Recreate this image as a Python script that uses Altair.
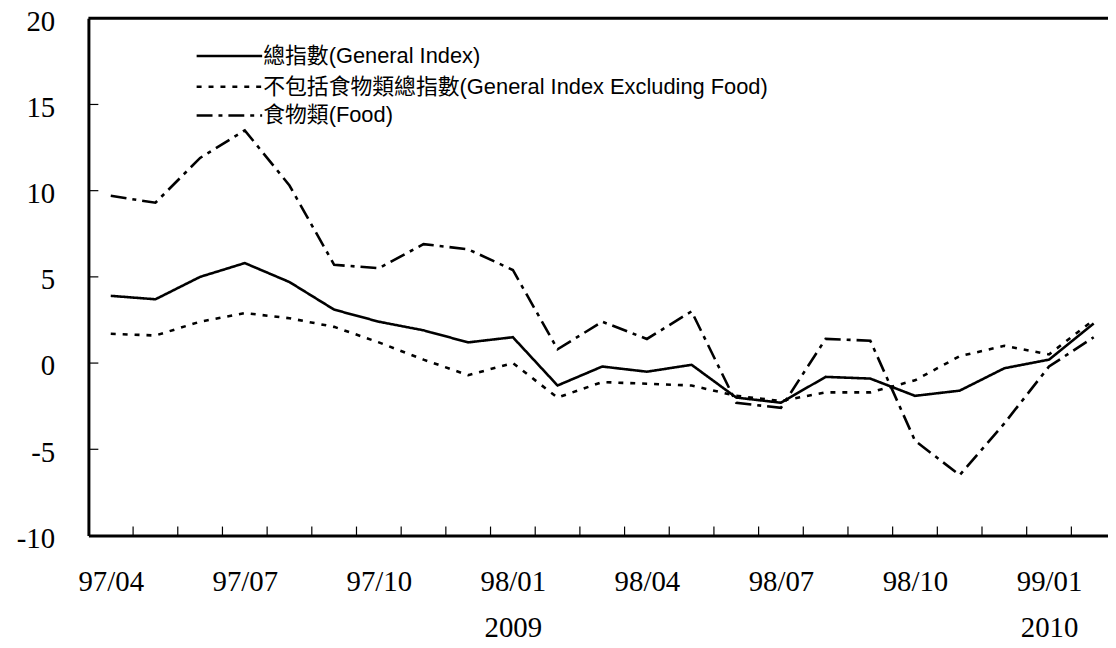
import json
import altair as alt
import pandas as pd

# ---- data ----
months = ["97/04", "97/05", "97/06", "97/07", "97/08", "97/09", "97/10", "97/11",
          "97/12", "98/01", "98/02", "98/03", "98/04", "98/05", "98/06", "98/07",
          "98/08", "98/09", "98/10", "98/11", "98/12", "99/01", "99/02"]
general = [3.9, 3.7, 5.0, 5.8, 4.7, 3.1, 2.4, 1.9, 1.2, 1.5, -1.3, -0.2,
           -0.5, -0.1, -2.0, -2.3, -0.8, -0.9, -1.9, -1.6, -0.3, 0.2, 2.3]
excl_food = [1.7, 1.6, 2.4, 2.9, 2.6, 2.1, 1.2, 0.2, -0.7, 0.0, -2.0, -1.1,
             -1.2, -1.3, -1.9, -2.2, -1.7, -1.7, -1.0, 0.4, 1.0, 0.5, 2.5]
food = [9.7, 9.3, 11.9, 13.5, 10.3, 5.7, 5.5, 6.9, 6.6, 5.4, 0.8, 2.4,
        1.4, 3.0, -2.3, -2.6, 1.4, 1.3, -4.5, -6.5, -3.5, -0.2, 1.5]
series_names = ["總指數(General Index)",
                "不包括食物類總指數(General Index Excluding Food)",
                "食物類(Food)"]
label_months = [0, 3, 6, 9, 12, 15, 18, 21]
year_lines = {9: "2009", 21: "2010"}
y_ticks = [-10, -5, 0, 5, 10, 15, 20]

# ---- tables ----
rows = []
for name, vals in zip(series_names, [general, excl_food, food]):
    for i, v in enumerate(vals):
        rows.append({"series": name, "idx": i, "month": months[i], "value": v})
df = pd.DataFrame(rows)
xticks_df = pd.DataFrame({"pos": [i + 0.5 for i in range(len(months) - 1)]})
yticks_df = pd.DataFrame({"v": [t for t in y_ticks if t not in (min(y_ticks), max(y_ticks))]})

label_arr = []
for i, m in enumerate(months):
    label_arr.append([m] + ([year_lines[i]] if i in year_lines else []))
label_expr = json.dumps(label_arr, ensure_ascii=False) + "[datum.value]"

W, H = 1027, 521
dashes = [[1, 0], [5, 7], [16, 6, 4, 6]]

xscale = alt.Scale(domain=[-0.5, 22.32], nice=False, zero=False)
yscale = alt.Scale(domain=[min(y_ticks), max(y_ticks)], nice=False, zero=False)

lines = alt.Chart(df).mark_line(color="black", strokeWidth=2.6).encode(
    x=alt.X("idx:Q", scale=xscale,
            axis=alt.Axis(values=label_months, labelExpr=label_expr, grid=False,
                          ticks=False, domainColor="black", domainWidth=3,
                          labelFont="Liberation Serif", labelFontSize=29,
                          labelColor="black", labelPadding=32,
                          labelLineHeight=47, title=None, labelFlush=False,
                          labelOverlap=False)),
    y=alt.Y("value:Q", scale=yscale,
            axis=alt.Axis(values=y_ticks, grid=False, ticks=False,
                          labelExpr="datum.value < 0 ? '-' + abs(datum.value) : '' + datum.value",
                          domainColor="black", domainWidth=3,
                          labelFont="Liberation Serif", labelFontSize=29,
                          labelColor="black", labelPadding=34, labelOffset=3,
                          title=None, labelFlush=False, labelOverlap=False)),
    strokeDash=alt.StrokeDash("series:N",
                              scale=alt.Scale(domain=series_names, range=dashes),
                              legend=None),
    detail="series:N",
)

xticks = alt.Chart(xticks_df).mark_rule(color="black", strokeWidth=1.2).encode(
    x=alt.X("pos:Q", scale=xscale), y=alt.value(H), y2=alt.value(H - 9))
yticks = alt.Chart(yticks_df).mark_rule(color="black", strokeWidth=1.2).encode(
    y=alt.Y("v:Q", scale=yscale), x=alt.value(0), x2=alt.value(10))
top = alt.Chart(pd.DataFrame({"v": [max(y_ticks)]})).mark_rule(
    color="black", strokeWidth=3).encode(
    y=alt.Y("v:Q", scale=yscale), x=alt.value(0), x2=alt.value(W))

layers = [lines, xticks, yticks, top]
leg_y = [38, 69, 98]
for name, dash, yy in zip(series_names, dashes, leg_y):
    ldf = pd.DataFrame({"label": [name]})
    layers.append(alt.Chart(ldf).mark_rule(color="black", strokeWidth=2.6,
                                           strokeDash=dash).encode(
        x=alt.value(109), x2=alt.value(175), y=alt.value(yy)))
    layers.append(alt.Chart(ldf).mark_text(
        align="left", baseline="middle", font="Liberation Sans, Noto Sans CJK TC",
        fontSize=22, color="black").encode(
        x=alt.value(176), y=alt.value(yy), text="label:N"))

chart = alt.layer(*layers).properties(
    width=W, height=H,
    autosize=alt.AutoSizeParams(type="none"),
    padding={"left": 81, "top": 8, "right": 0, "bottom": 111},
).configure_view(stroke=None).configure(background="white")

chart.save("out.html", embed_options={"renderer": "svg", "actions": False})
